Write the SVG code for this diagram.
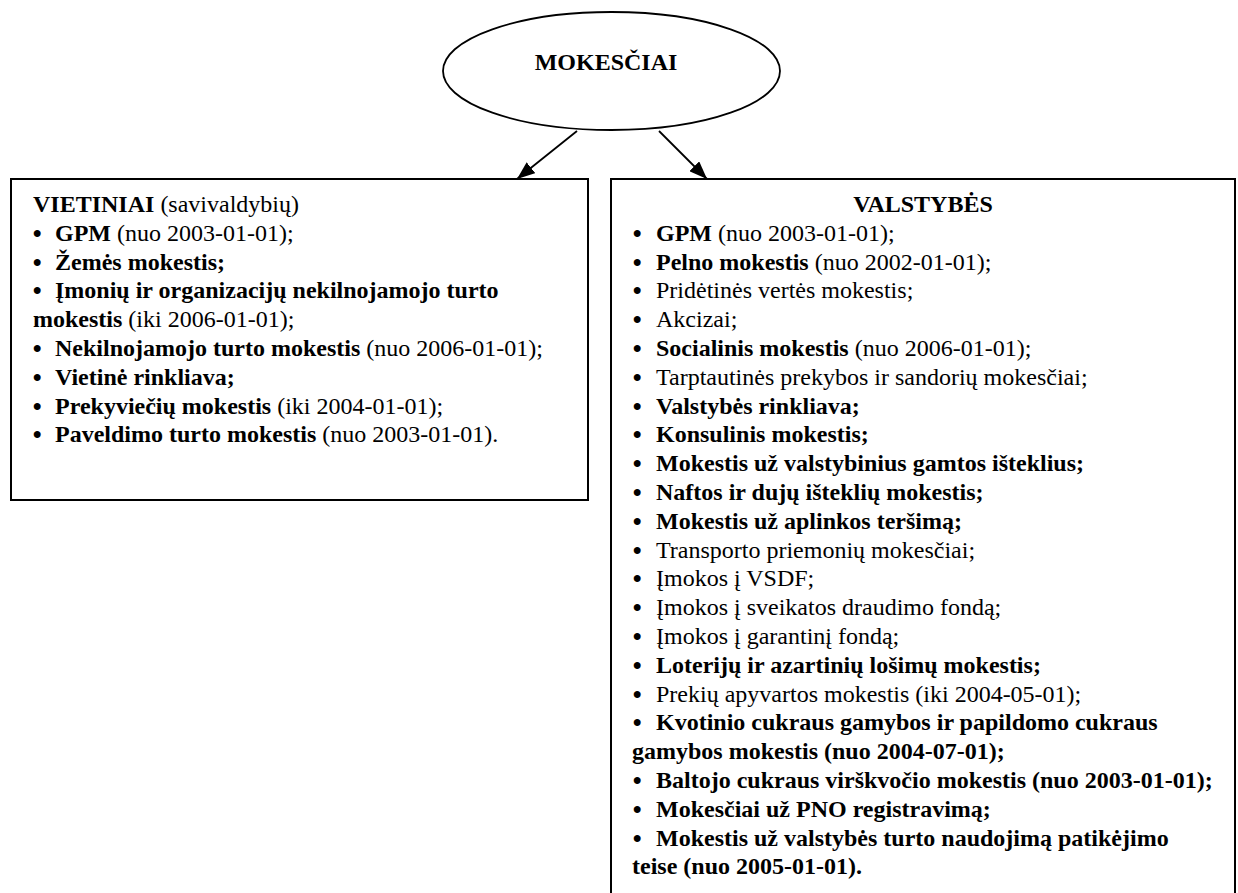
<svg xmlns="http://www.w3.org/2000/svg" width="1238" height="893" viewBox="0 0 1238 893">
<style>
text{font-family:"Liberation Serif",Tinos,"Times New Roman","DejaVu Serif",serif;font-size:24px;fill:#000}
.b{font-weight:bold}
.bul{font-family:"Liberation Sans",Arial,sans-serif;font-weight:bold}
.box{fill:#fff;stroke:#000;stroke-width:2}
.edge{stroke:#000;stroke-width:1.8;fill:none}
</style>
<defs>
<marker id="arr" viewBox="0 0 18 14" refX="18" refY="7" markerWidth="18" markerHeight="14" markerUnits="userSpaceOnUse" orient="auto">
<path d="M0,0 L18,7 L0,14 z" fill="#000"/>
</marker>
</defs>
<rect width="1238" height="893" fill="#fff"/>
<g id="connectors">
<line class="edge" x1="577" y1="131" x2="517" y2="179" marker-end="url(#arr)"/>
<line class="edge" x1="659" y1="131" x2="707" y2="179" marker-end="url(#arr)"/>
</g>
<g id="mokesciai">
<ellipse cx="611.5" cy="71" rx="168.5" ry="59" fill="#fff" stroke="#000" stroke-width="1.8"/>
<text x="606" y="70" text-anchor="middle" class="b">MOKESČIAI</text>
</g>
<g id="vietiniai">
<rect class="box" x="11" y="179" width="577" height="321"/>
<text x="33" y="212"><tspan class="b">VIETINIAI</tspan> (savivaldybių)</text>
<text x="33" y="240.8"><tspan class="bul">•</tspan><tspan x="55" class="b">GPM</tspan> (nuo 2003-01-01);</text>
<text x="33" y="269.6"><tspan class="bul">•</tspan><tspan x="55" class="b">Žemės mokestis;</tspan></text>
<text x="33" y="298.4"><tspan class="bul">•</tspan><tspan x="55" class="b">Įmonių ir organizacijų nekilnojamojo turto</tspan></text>
<text x="33" y="327.2"><tspan class="b">mokestis</tspan> (iki 2006-01-01);</text>
<text x="33" y="356"><tspan class="bul">•</tspan><tspan x="55" class="b">Nekilnojamojo turto mokestis</tspan> (nuo 2006-01-01);</text>
<text x="33" y="384.8"><tspan class="bul">•</tspan><tspan x="55" class="b">Vietinė rinkliava;</tspan></text>
<text x="33" y="413.6"><tspan class="bul">•</tspan><tspan x="55" class="b">Prekyviečių mokestis</tspan> (iki 2004-01-01);</text>
<text x="33" y="442.4"><tspan class="bul">•</tspan><tspan x="55" class="b">Paveldimo turto mokestis</tspan> (nuo 2003-01-01).</text>
</g>
<g id="valstybes">
<path class="box" d="M611,900 V179 H1235 V900"/>
<text x="923" y="212" text-anchor="middle" class="b">VALSTYBĖS</text>
<text x="633" y="240.8"><tspan class="bul">•</tspan><tspan x="656" class="b">GPM</tspan> (nuo 2003-01-01);</text>
<text x="633" y="269.6"><tspan class="bul">•</tspan><tspan x="656" class="b">Pelno mokestis</tspan> (nuo 2002-01-01);</text>
<text x="633" y="298.4"><tspan class="bul">•</tspan><tspan x="656">Pridėtinės vertės mokestis;</tspan></text>
<text x="633" y="327.2"><tspan class="bul">•</tspan><tspan x="656">Akcizai;</tspan></text>
<text x="633" y="356"><tspan class="bul">•</tspan><tspan x="656" class="b">Socialinis mokestis</tspan> (nuo 2006-01-01);</text>
<text x="633" y="384.8"><tspan class="bul">•</tspan><tspan x="656">Tarptautinės prekybos ir sandorių mokesčiai;</tspan></text>
<text x="633" y="413.6"><tspan class="bul">•</tspan><tspan x="656" class="b">Valstybės rinkliava;</tspan></text>
<text x="633" y="442.4"><tspan class="bul">•</tspan><tspan x="656" class="b">Konsulinis mokestis;</tspan></text>
<text x="633" y="471.2"><tspan class="bul">•</tspan><tspan x="656" class="b">Mokestis už valstybinius gamtos išteklius;</tspan></text>
<text x="633" y="500"><tspan class="bul">•</tspan><tspan x="656" class="b">Naftos ir dujų išteklių mokestis;</tspan></text>
<text x="633" y="528.8"><tspan class="bul">•</tspan><tspan x="656" class="b">Mokestis už aplinkos teršimą;</tspan></text>
<text x="633" y="557.6"><tspan class="bul">•</tspan><tspan x="656">Transporto priemonių mokesčiai;</tspan></text>
<text x="633" y="586.4"><tspan class="bul">•</tspan><tspan x="656">Įmokos į VSDF;</tspan></text>
<text x="633" y="615.2"><tspan class="bul">•</tspan><tspan x="656">Įmokos į sveikatos draudimo fondą;</tspan></text>
<text x="633" y="644"><tspan class="bul">•</tspan><tspan x="656">Įmokos į garantinį fondą;</tspan></text>
<text x="633" y="672.8"><tspan class="bul">•</tspan><tspan x="656" class="b">Loterijų ir azartinių lošimų mokestis;</tspan></text>
<text x="633" y="701.6"><tspan class="bul">•</tspan><tspan x="656">Prekių apyvartos mokestis (iki 2004-05-01);</tspan></text>
<text x="633" y="730.4"><tspan class="bul">•</tspan><tspan x="656" class="b">Kvotinio cukraus gamybos ir papildomo cukraus</tspan></text>
<text x="632" y="759.2" class="b">gamybos mokestis (nuo 2004-07-01);</text>
<text x="633" y="788"><tspan class="bul">•</tspan><tspan x="656" class="b">Baltojo cukraus virškvočio mokestis (nuo 2003-01-01);</tspan></text>
<text x="633" y="816.8"><tspan class="bul">•</tspan><tspan x="656" class="b">Mokesčiai už PNO registravimą;</tspan></text>
<text x="633" y="845.6"><tspan class="bul">•</tspan><tspan x="656" class="b">Mokestis už valstybės turto naudojimą patikėjimo</tspan></text>
<text x="632" y="874.4" class="b">teise (nuo 2005-01-01).</text>
</g>
</svg>
